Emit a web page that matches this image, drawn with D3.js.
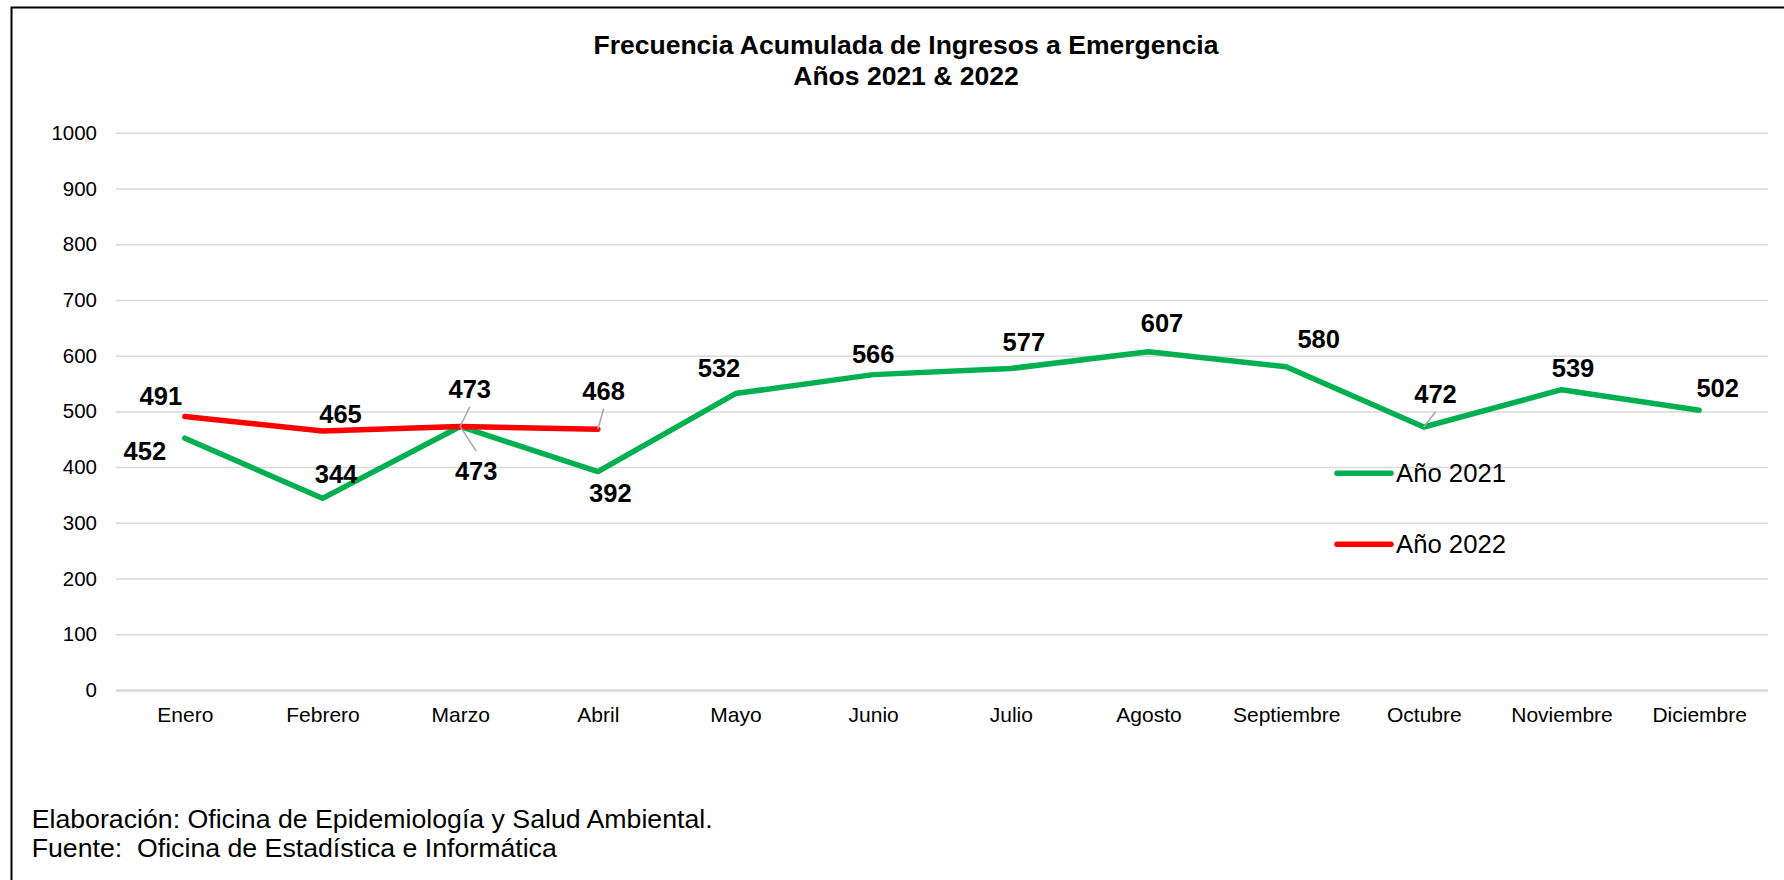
<!DOCTYPE html>
<html>
<head>
<meta charset="utf-8">
<script src="https://cdn.jsdelivr.net/npm/d3@7"></script>
<style>
  html, body { margin: 0; padding: 0; background: #fff; }
  svg { display: block; }
  text { font-family: "Liberation Sans", Arial, sans-serif; fill: #000; }
</style>
</head>
<body>
<svg id="chart" width="1784" height="880"></svg>
<script>
// ---- data ----
const months = ["Enero", "Febrero", "Marzo", "Abril", "Mayo", "Junio", "Julio",
                "Agosto", "Septiembre", "Octubre", "Noviembre", "Diciembre"];
const values2021 = [452, 344, 473, 392, 532, 566, 577, 607, 580, 472, 539, 502];
const values2022 = [491, 465, 473, 468];
const yTicks = [0, 100, 200, 300, 400, 500, 600, 700, 800, 900, 1000];
const seriesNames = ["Año 2021", "Año 2022"];
const titleLines = ["Frecuencia Acumulada de Ingresos a Emergencia", "Años 2021 & 2022"];
const footerLines = ["Elaboración: Oficina de Epidemiología y Salud Ambiental.",
                     "Fuente:  Oficina de Estadística e Informática"];

// label placement offsets (pixels) relative to each point: [dx, dy to baseline]
const labelOffsets2021 = [[-40, 22], [13.5, -15], [16, 53.6], [12.5, 30], [-16.5, -16.3], [0, -11.3],
                          [13, -17.8], [13.5, -20], [32.5, -19], [11.7, -23.7], [11.5, -13], [18.5, -13.6]];
const labelOffsets2022 = [[-24, -11.4], [18, -8], [9.6, -28], [5.8, -29]];
// leader lines: [seriesIndex, pointIndex, side of label]
const leaders = [[1, 2, "bottom"], [0, 2, "top"], [1, 3, "bottom"], [0, 9, "bottom"]];

// ---- layout ----
const svg = d3.select("#chart");
const plot = { left: 116, right: 1768, top: 132.8, bottom: 690 };
const colors = ["#00B050", "#FF0000"];

const x = d3.scalePoint().domain(months).range([plot.left, plot.right]).padding(0.5);
const y = d3.scaleLinear().domain([0, 1000]).range([plot.bottom, plot.top]);

// outer border
svg.append("rect")
  .attr("x", 11.5).attr("y", 7.5).attr("width", 1800).attr("height", 900)
  .attr("fill", "none").attr("stroke", "#000").attr("stroke-width", 2);

// title
svg.append("g").selectAll("text").data(titleLines).join("text")
  .attr("x", 906).attr("y", (d, i) => 54 + i * 31)
  .attr("text-anchor", "middle")
  .style("font-size", "26.5px").style("font-weight", "bold")
  .text(d => d);

// gridlines
const yAxis = d3.axisLeft(y).tickValues(yTicks).tickSize(-(plot.right - plot.left)).tickPadding(19).tickFormat(d3.format("d"));
const gy = svg.append("g").attr("transform", `translate(${plot.left},0)`).call(yAxis);
gy.select(".domain").remove();
gy.selectAll(".tick line").attr("stroke", "#D9D9D9").attr("stroke-width", d => d === 0 ? 2.5 : 1.5);
gy.selectAll(".tick text").style("font-size", "20.5px").attr("fill", "#000");

// x axis labels
const xAxis = d3.axisBottom(x).tickSize(0).tickPadding(0);
const gx = svg.append("g").attr("transform", `translate(0,${plot.bottom})`).call(xAxis);
gx.select(".domain").remove();
gx.selectAll(".tick text").style("font-size", "21px").attr("fill", "#000")
  .attr("dy", null).attr("y", 32);

// lines
const line = d3.line().x(d => x(d.m)).y(d => y(d.v));
const series = [values2021, values2022].map((vals, s) =>
  vals.map((v, i) => ({ m: months[i], v, off: (s === 0 ? labelOffsets2021 : labelOffsets2022)[i] })));

svg.append("g").selectAll("path").data(series).join("path")
  .attr("d", line)
  .attr("fill", "none")
  .attr("stroke", (d, i) => colors[i])
  .attr("stroke-width", 5.5)
  .attr("stroke-linecap", "round")
  .attr("stroke-linejoin", "round");

// leader lines
svg.append("g").selectAll("line").data(leaders).join("line")
  .attr("x1", d => x(series[d[0]][d[1]].m))
  .attr("y1", d => y(series[d[0]][d[1]].v))
  .attr("x2", d => x(series[d[0]][d[1]].m) + series[d[0]][d[1]].off[0])
  .attr("y2", d => y(series[d[0]][d[1]].v) + series[d[0]][d[1]].off[1] + (d[2] === "bottom" ? 8.5 : -29))
  .attr("stroke", "#A6A6A6").attr("stroke-width", 1.5);

// data labels
series.forEach((pts, s) => {
  svg.append("g").selectAll("text").data(pts).join("text")
    .attr("x", d => x(d.m) + d.off[0])
    .attr("y", d => y(d.v) + d.off[1])
    .attr("text-anchor", "middle")
    .style("font-size", "25.5px").style("font-weight", "bold")
    .text(d => d.v);
});

// legend
const legend = svg.append("g").selectAll("g").data(seriesNames).join("g")
  .attr("transform", (d, i) => `translate(1337,${473.3 + i * 71})`);
legend.append("line").attr("x1", 0).attr("x2", 54).attr("y1", 0).attr("y2", 0)
  .attr("stroke", (d, i) => colors[i]).attr("stroke-width", 5.5).attr("stroke-linecap", "round");
legend.append("text").attr("x", 59).attr("y", 9).style("font-size", "25.7px").text(d => d);

// footer
svg.append("g").selectAll("text").data(footerLines).join("text")
  .attr("x", 31.7).attr("y", (d, i) => 828 + i * 29)
  .style("font-size", "26.7px")
  .style("white-space", "pre")
  .attr("xml:space", "preserve")
  .text(d => d);
</script>
</body>
</html>
